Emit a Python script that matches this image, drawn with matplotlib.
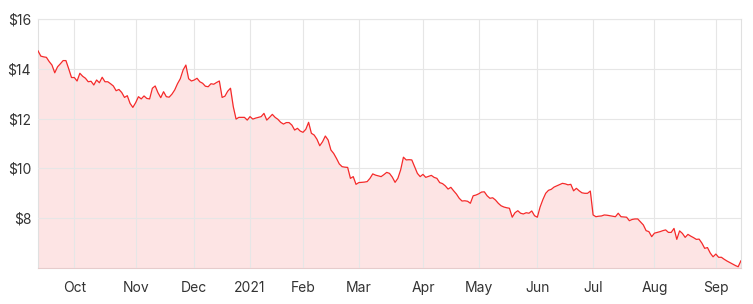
import matplotlib
matplotlib.use("Agg")
import matplotlib.pyplot as plt
import numpy as np

# closing price, one value per trading day (mid Sep 2020 -> mid Sep 2021)
precios = [
    14.72, 14.51, 14.48, 14.46, 14.29, 14.15, 13.84, 14.08, 14.2, 14.33,
    14.33, 14.0, 13.65, 13.65, 13.51, 13.82, 13.7, 13.62, 13.48, 13.5,
    13.35, 13.55, 13.44, 13.66, 13.48, 13.48, 13.4, 13.31, 13.12, 13.17,
    13.05, 12.85, 12.92, 12.61, 12.45, 12.64, 12.88, 12.79, 12.91, 12.81,
    12.79, 13.22, 13.31, 13.04, 12.84, 13.08, 12.88, 12.86, 12.98, 13.15,
    13.4, 13.6, 13.95, 14.15, 13.6, 13.51, 13.55, 13.62, 13.48, 13.42,
    13.3, 13.28, 13.4, 13.38, 13.45, 13.51, 12.85, 12.9, 13.1, 13.22,
    12.48, 11.98, 12.05, 12.05, 12.05, 11.94, 12.08, 11.98, 12.02, 12.05,
    12.08, 12.21, 11.94, 12.05, 12.17, 12.05, 11.97, 11.85, 11.78, 11.84,
    11.84, 11.74, 11.54, 11.61, 11.5, 11.45, 11.57, 11.85, 11.41, 11.34,
    11.17, 10.91, 11.07, 11.3, 11.14, 10.74, 10.6, 10.4, 10.18, 10.07,
    10.05, 10.04, 9.6, 9.67, 9.36, 9.43, 9.44, 9.45, 9.47, 9.6,
    9.78, 9.73, 9.7, 9.67, 9.75, 9.84, 9.8, 9.65, 9.44, 9.6,
    9.94, 10.45, 10.34, 10.35, 10.34, 10.07, 9.8, 9.67, 9.76, 9.64,
    9.68, 9.72, 9.64, 9.6, 9.43, 9.39, 9.3, 9.17, 9.24, 9.1,
    8.97, 8.8, 8.69, 8.7, 8.68, 8.6, 8.9, 8.93, 8.98, 9.05,
    9.06, 8.9, 8.8, 8.82, 8.73, 8.6, 8.5, 8.45, 8.42, 8.4,
    8.04, 8.22, 8.3, 8.2, 8.17, 8.22, 8.2, 8.29, 8.1, 8.04,
    8.45, 8.75, 9.0, 9.12, 9.16, 9.25, 9.3, 9.35, 9.4, 9.38,
    9.34, 9.36, 9.1, 9.2, 9.1, 9.02, 9.0, 9.0, 9.09, 8.13,
    8.06, 8.08, 8.09, 8.13, 8.12, 8.1, 8.08, 8.06, 8.2, 8.06,
    8.05, 8.04, 7.9, 7.95, 7.97, 7.97, 7.85, 7.73, 7.5, 7.46,
    7.26, 7.4, 7.43, 7.46, 7.5, 7.53, 7.43, 7.43, 7.59, 7.15,
    7.49, 7.39, 7.23, 7.35, 7.28, 7.22, 7.15, 7.16, 7.0, 6.79,
    6.82, 6.6, 6.45, 6.56, 6.43, 6.43, 6.35, 6.28, 6.22, 6.16,
    6.1, 6.05, 6.29,
]

# first trading day of each month (index into precios) and its label
meses_pos = [13, 35, 56, 76, 95, 115, 138, 158, 179, 199, 221, 243]
meses = ['Oct', 'Nov', 'Dec', '2021', 'Feb', 'Mar', 'Apr', 'May', 'Jun', 'Jul', 'Aug', 'Sep']
y_ticks = [8, 10, 12, 14, 16]

plt.rcParams['font.family'] = ['Inter', 'DejaVu Sans']

fig = plt.figure(figsize=(7.53, 3.04), dpi=100)
ax = fig.add_axes([0.0505, 0.1184, 0.9335, 0.8191])

x = np.arange(len(precios))
ax.fill_between(x, precios, 6, color='#fde4e4', linewidth=0, zorder=1)
ax.plot(x, precios, color='#f52a2a', linewidth=0.9, zorder=3)

ax.set_xlim(0, len(precios) - 1)
ax.set_ylim(6, 16)
ax.set_xticks(meses_pos)
ax.set_xticklabels(meses)
ax.set_yticks(y_ticks)
ax.set_yticklabels(['$%d' % v for v in y_ticks])

ax.grid(True, color='#e6e6e6', linewidth=0.8, zorder=2)
ax.set_axisbelow(False)
for s in ax.spines.values():
    s.set_color('#e0e0e0')
    s.set_linewidth(0.8)
ax.spines['bottom'].set_color('#e6cccc')
ax.tick_params(length=0, labelsize=10, labelcolor='#333333')
ax.tick_params(axis='x', pad=9)
ax.tick_params(axis='y', pad=5)

fig.savefig('out.png', dpi=100)
